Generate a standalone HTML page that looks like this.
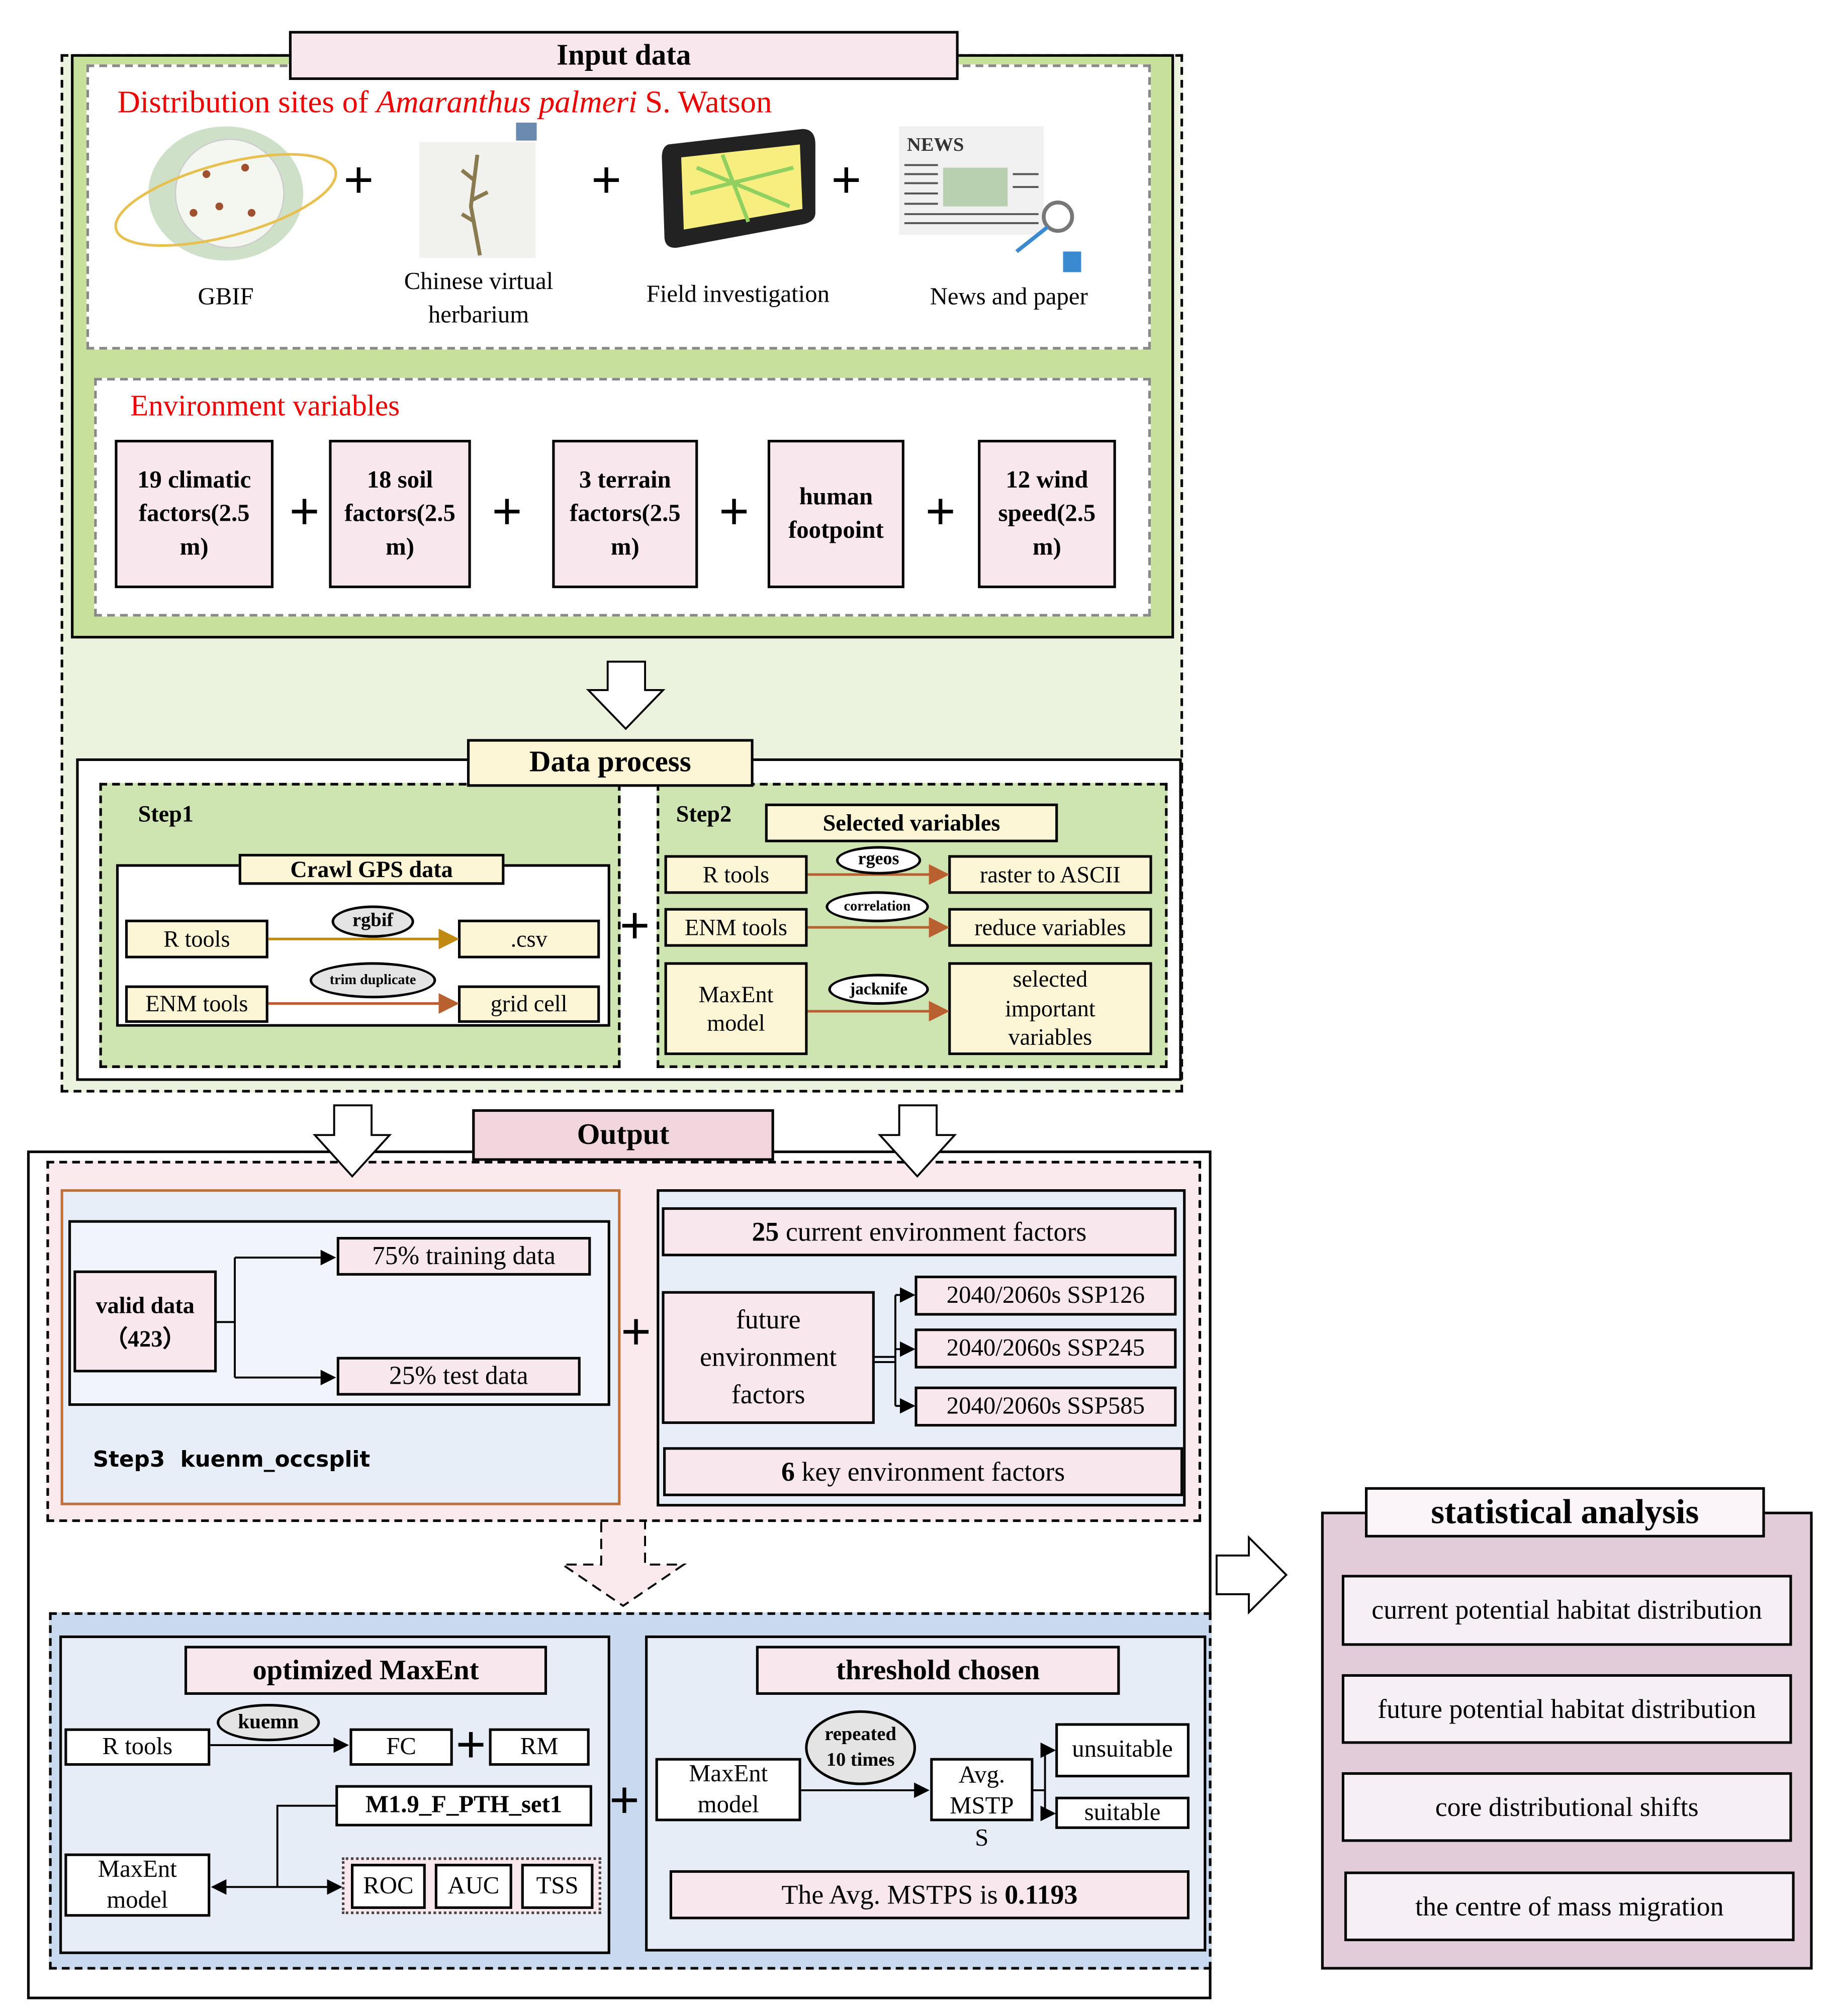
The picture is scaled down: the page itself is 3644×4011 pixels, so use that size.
<!DOCTYPE html>
<html><head><meta charset="utf-8"><style>
html,body{margin:0;padding:0;background:#fff;}
body{width:3644px;height:4010px;overflow:hidden;position:relative;}
#s{position:absolute;left:0;top:0;width:1420px;height:1563px;transform:scale(2.5662);transform-origin:0 0;font-family:"Liberation Serif",serif;color:#000;}
#s div{position:absolute;box-sizing:border-box;}
.b{border:2px solid #000;display:flex;align-items:center;justify-content:center;text-align:center;line-height:1.25;}
.pk{background:#f8e8ee;}
.yl{background:#fdf6d6;}
.wh{background:#fff;}
.bold{font-weight:bold;}
.ev{padding:0 10px;}
.el{border:2px solid #000;border-radius:50%;display:flex;align-items:center;justify-content:center;font-weight:bold;}
.plus{font-size:40px;line-height:40px;width:40px;height:40px;text-align:center;font-family:"Liberation Sans",sans-serif;font-weight:200;}
svg{position:absolute;left:0;top:0;overflow:visible;}
</style></head><body><div id="s">

<!-- INPUT DATA -->
<div style="left:47px;top:42px;width:870px;height:805px;border:2px dashed #000;background:#ebf3df;"></div>
<div style="left:55px;top:42px;width:855px;height:453px;border:2px solid #000;background:#c7e09c;"></div>
<div style="left:67px;top:50px;width:825px;height:221px;border:2px dashed #888;background:#fff;"></div>
<div style="left:73px;top:293px;width:819px;height:185px;border:2px dashed #888;background:#fff;"></div>
<div class="b pk bold" style="left:224px;top:24px;width:519px;height:38px;font-size:23px;">Input data</div>
<div style="left:91px;top:66px;font-size:24.5px;color:#e00;white-space:nowrap;">Distribution sites of <i>Amaranthus palmeri</i> S. Watson</div>

<svg width="1420" height="1563">
 <ellipse cx="175" cy="150" rx="60" ry="52" fill="#cfe0c8"/>
 <circle cx="178" cy="150" r="42" fill="#f4f6f0" stroke="#ccc"/>
 <ellipse cx="175" cy="155" rx="88" ry="28" fill="none" stroke="#e8c050" stroke-width="2" transform="rotate(-15 175 155)"/>
 <g fill="#a05030"><circle cx="160" cy="135" r="3"/><circle cx="190" cy="130" r="3"/><circle cx="170" cy="160" r="3"/><circle cx="195" cy="165" r="3"/><circle cx="150" cy="165" r="3"/></g>
 <rect x="325" y="110" width="90" height="90" fill="#f1f1ee"/>
 <path d="M370 120 L365 160 L372 198 M368 140 l-10 -8 M366 155 l12 -6 M368 172 l-10 -6" stroke="#8a7a50" stroke-width="3" fill="none"/>
 <rect x="400" y="95" width="16" height="14" fill="#6a8ab0"/>
 <path d="M518 112 L622 100 Q632 100 632 112 L632 165 Q632 172 622 174 L525 192 Q515 193 515 183 L513 122 Q513 114 518 112Z" fill="#222"/>
 <path d="M528 122 L620 112 L622 162 L530 178Z" fill="#f6ef80"/>
 <path d="M540 130 L612 160 M560 120 L580 172 M535 150 L615 130" stroke="#8fd060" stroke-width="3"/>
 <rect x="697" y="98" width="112" height="84" fill="#f0f0f0"/>
 <text x="703" y="117" font-family="Liberation Serif" font-weight="bold" font-size="15" fill="#333">NEWS</text>
 <rect x="731" y="130" width="50" height="30" fill="#b8d0b0"/>
 <g stroke="#555" stroke-width="1.5"><line x1="701" y1="128" x2="727" y2="128"/><line x1="701" y1="135" x2="727" y2="135"/><line x1="701" y1="142" x2="727" y2="142"/><line x1="701" y1="150" x2="727" y2="150"/><line x1="701" y1="158" x2="727" y2="158"/><line x1="701" y1="166" x2="805" y2="166"/><line x1="701" y1="173" x2="805" y2="173"/><line x1="785" y1="135" x2="805" y2="135"/><line x1="785" y1="145" x2="805" y2="145"/></g>
 <circle cx="820" cy="168" r="11" fill="none" stroke="#777" stroke-width="3"/>
 <line x1="812" y1="176" x2="788" y2="195" stroke="#3a8ad0" stroke-width="3"/>
 <rect x="824" y="195" width="14" height="16" fill="#3a8ad0"/>
</svg>
<div class="plus" style="left:258px;top:120px;">+</div>
<div class="plus" style="left:450px;top:120px;">+</div>
<div class="plus" style="left:636px;top:120px;">+</div>
<div style="left:130px;top:220px;width:90px;text-align:center;font-size:19px;">GBIF</div>
<div style="left:300px;top:206px;width:142px;text-align:center;font-size:19px;line-height:26px;">Chinese virtual herbarium</div>
<div style="left:482px;top:218px;width:180px;text-align:center;font-size:19px;">Field investigation</div>
<div style="left:697px;top:220px;width:170px;text-align:center;font-size:19px;">News and paper</div>

<div style="left:101px;top:302px;font-size:23px;color:#e00;">Environment variables</div>
<div class="b pk bold ev" style="left:89px;top:341px;width:123px;height:115px;font-size:19px;line-height:26px;">19 climatic factors(2.5 m)</div>
<div class="b pk bold ev" style="left:255px;top:341px;width:110px;height:115px;font-size:19px;line-height:26px;">18 soil factors(2.5 m)</div>
<div class="b pk bold ev" style="left:428px;top:341px;width:113px;height:115px;font-size:19px;line-height:26px;">3 terrain factors(2.5 m)</div>
<div class="b pk bold ev" style="left:595px;top:341px;width:106px;height:115px;font-size:19px;line-height:26px;">human footpoint</div>
<div class="b pk bold ev" style="left:758px;top:341px;width:107px;height:115px;font-size:19px;line-height:26px;">12 wind speed(2.5 m)</div>
<div class="plus" style="left:216px;top:377px;">+</div>
<div class="plus" style="left:373px;top:377px;">+</div>
<div class="plus" style="left:549px;top:377px;">+</div>
<div class="plus" style="left:709px;top:377px;">+</div>

<svg width="1420" height="1563"><path d="M471 513 H500 V535 H514 L485 565 L456 535 H471Z" fill="#fff" stroke="#000" stroke-width="1.5"/></svg>

<!-- DATA PROCESS -->
<div style="left:59px;top:588px;width:857px;height:250px;border:2px solid #000;background:#fff;"></div>
<div style="left:77px;top:607px;width:404px;height:221px;border:2px dashed #000;background:#cfe5b1;"></div>
<div style="left:509px;top:607px;width:396px;height:221px;border:2px dashed #000;background:#cfe5b1;"></div>
<div class="b yl bold" style="left:362px;top:573px;width:222px;height:37px;font-size:23px;">Data process</div>
<div class="bold" style="left:107px;top:621px;font-size:18px;">Step1</div>
<div class="bold" style="left:524px;top:621px;font-size:18px;">Step2</div>
<div style="left:90px;top:670px;width:383px;height:126px;border:2px solid #000;background:#fff;"></div>
<div class="b yl bold" style="left:185px;top:662px;width:206px;height:24px;font-size:18px;">Crawl GPS data</div>
<div class="b yl" style="left:97px;top:713px;width:111px;height:30px;font-size:18px;">R tools</div>
<div class="b yl" style="left:355px;top:713px;width:110px;height:30px;font-size:18px;">.csv</div>
<div class="b yl" style="left:97px;top:764px;width:111px;height:29px;font-size:18px;">ENM tools</div>
<div class="b yl" style="left:355px;top:764px;width:110px;height:29px;font-size:18px;">grid cell</div>
<div class="b yl bold" style="left:593px;top:623px;width:227px;height:30px;font-size:18px;">Selected variables</div>
<div class="b yl" style="left:515px;top:663px;width:111px;height:30px;font-size:18px;">R tools</div>
<div class="b yl" style="left:735px;top:663px;width:158px;height:30px;font-size:18px;">raster to ASCII</div>
<div class="b yl" style="left:515px;top:704px;width:111px;height:30px;font-size:18px;">ENM tools</div>
<div class="b yl" style="left:735px;top:704px;width:158px;height:30px;font-size:18px;">reduce variables</div>
<div class="b yl" style="left:515px;top:746px;width:111px;height:72px;font-size:18px;">MaxEnt model</div>
<div class="b yl ev" style="left:735px;top:746px;width:158px;height:72px;font-size:18px;padding:0 24px;">selected important variables</div>
<svg width="1420" height="1563">
 <defs>
  <marker id="ao" markerWidth="8" markerHeight="8" refX="7" refY="4" orient="auto"><path d="M0,0 L8,4 L0,8Z" fill="#b86030"/></marker>
  <marker id="ay" markerWidth="8" markerHeight="8" refX="7" refY="4" orient="auto"><path d="M0,0 L8,4 L0,8Z" fill="#c08a10"/></marker>
  <marker id="ak" markerWidth="8" markerHeight="8" refX="7" refY="4" orient="auto"><path d="M0,0 L8,4 L0,8Z" fill="#000"/></marker>
 </defs>
 <line x1="208" y1="728" x2="354" y2="728" stroke="#c08a10" stroke-width="2" marker-end="url(#ay)"/>
 <line x1="208" y1="778" x2="354" y2="778" stroke="#b86030" stroke-width="2" marker-end="url(#ao)"/>
 <line x1="626" y1="678" x2="734" y2="678" stroke="#b86030" stroke-width="2" marker-end="url(#ao)"/>
 <line x1="626" y1="719" x2="734" y2="719" stroke="#b86030" stroke-width="2" marker-end="url(#ao)"/>
 <line x1="626" y1="784" x2="734" y2="784" stroke="#b86030" stroke-width="2" marker-end="url(#ao)"/>
</svg>
<div class="el" style="left:257px;top:702px;width:64px;height:25px;background:#e4e4e4;font-size:15px;">rgbif</div>
<div class="el" style="left:240px;top:746px;width:98px;height:28px;background:#e4e4e4;font-size:11px;">trim duplicate</div>
<div class="el" style="left:648px;top:656px;width:66px;height:22px;background:#fff;font-size:14px;">rgeos</div>
<div class="el" style="left:640px;top:691px;width:80px;height:24px;background:#fff;font-size:11px;">correlation</div>
<div class="el" style="left:642px;top:755px;width:78px;height:24px;background:#fff;font-size:13px;">jacknife</div>
<div class="plus" style="left:472px;top:698px;">+</div>

<!-- OUTPUT -->
<div style="left:21px;top:892px;width:918px;height:658px;border:2px solid #000;background:#fff;"></div>
<div style="left:36px;top:900px;width:895px;height:280px;border:2px dashed #000;background:#faeaee;"></div>
<svg width="1420" height="1563">
 <path d="M259 857 H288 V880 H302 L273 912 L244 880 H259Z" fill="#fff" stroke="#000" stroke-width="1.5"/>
 <path d="M697 857 H726 V880 H740 L711 912 L682 880 H697Z" fill="#fff" stroke="#000" stroke-width="1.5"/>
</svg>
<div class="b bold" style="left:366px;top:860px;width:234px;height:40px;font-size:23px;background:#f2d6de;">Output</div>
<div style="left:47px;top:922px;width:434px;height:245px;border:2px solid #c0703a;background:#e8eef8;"></div>
<div style="left:53px;top:946px;width:420px;height:144px;border:2px solid #000;background:#f1f4fa;"></div>
<div class="b pk bold" style="left:57px;top:985px;width:111px;height:79px;font-size:18px;line-height:26px;">valid data<br>（423）</div>
<div class="b pk" style="left:261px;top:959px;width:197px;height:30px;font-size:20px;">75% training data</div>
<div class="b pk" style="left:261px;top:1052px;width:189px;height:30px;font-size:20px;">25% test data</div>
<div style="left:72px;top:1122px;font-family:'DejaVu Sans',sans-serif;font-size:17px;font-weight:600;white-space:nowrap;">Step3&nbsp;&nbsp;kuenm_occsplit</div>
<div class="plus" style="left:473px;top:1013px;">+</div>
<div style="left:509px;top:922px;width:410px;height:246px;border:2px solid #000;background:#e8eef8;"></div>
<div class="b pk" style="left:513px;top:936px;width:399px;height:38px;font-size:21px;"><b>25</b>&nbsp;current environment factors</div>
<div class="b pk" style="left:513px;top:1001px;width:165px;height:103px;font-size:21px;line-height:29px;">future environment factors</div>
<div class="b pk" style="left:709px;top:989px;width:203px;height:31px;font-size:19px;">2040/2060s SSP126</div>
<div class="b pk" style="left:709px;top:1030px;width:203px;height:31px;font-size:19px;">2040/2060s SSP245</div>
<div class="b pk" style="left:709px;top:1075px;width:203px;height:31px;font-size:19px;">2040/2060s SSP585</div>
<div class="b pk" style="left:514px;top:1122px;width:403px;height:38px;font-size:21px;"><b>6</b>&nbsp;key environment factors</div>
<svg width="1420" height="1563">
 <path d="M168 1025 H182 M182 975 V1068" stroke="#000" stroke-width="1.5" fill="none"/>
 <line x1="182" y1="975" x2="259" y2="975" stroke="#000" stroke-width="1.5" marker-end="url(#ak)"/>
 <line x1="182" y1="1068" x2="259" y2="1068" stroke="#000" stroke-width="1.5" marker-end="url(#ak)"/>
 <path d="M678 1052 H694 M678 1056 H694 M694 1004 V1090" stroke="#000" stroke-width="1.5" fill="none"/>
 <line x1="694" y1="1004" x2="708" y2="1004" stroke="#000" stroke-width="1.5" marker-end="url(#ak)"/>
 <line x1="694" y1="1046" x2="708" y2="1046" stroke="#000" stroke-width="1.5" marker-end="url(#ak)"/>
 <line x1="694" y1="1090" x2="708" y2="1090" stroke="#000" stroke-width="1.5" marker-end="url(#ak)"/>
 <path d="M466 1180 V1213 H436 L483 1245 L530 1213 H500 V1180" fill="#faeaee" stroke="#000" stroke-width="1.5" stroke-dasharray="8,5"/>
 <path d="M943 1206 H968 V1192 L997 1221 L968 1250 V1236 H943Z" fill="#fff" stroke="#000" stroke-width="1.5"/>
</svg>

<div style="left:38px;top:1250px;width:901px;height:277px;border:2px dashed #000;background:#c9d9ee;"></div>
<div style="left:46px;top:1268px;width:427px;height:247px;border:2px solid #000;background:#e6edf7;"></div>
<div style="left:500px;top:1268px;width:435px;height:245px;border:2px solid #000;background:#e6edf7;"></div>
<div class="b pk bold" style="left:143px;top:1276px;width:281px;height:38px;font-size:22px;">optimized MaxEnt</div>
<div class="b pk bold" style="left:586px;top:1276px;width:282px;height:38px;font-size:22px;">threshold chosen</div>
<div class="b wh" style="left:50px;top:1340px;width:113px;height:29px;font-size:19px;">R tools</div>
<div class="b wh" style="left:271px;top:1340px;width:80px;height:29px;font-size:19px;">FC</div>
<div class="b wh" style="left:379px;top:1340px;width:78px;height:29px;font-size:19px;">RM</div>
<div class="plus" style="left:345px;top:1333px;">+</div>
<div class="b wh bold" style="left:260px;top:1384px;width:199px;height:32px;font-size:19px;">M1.9_F_PTH_set1</div>
<div class="b wh" style="left:50px;top:1437px;width:113px;height:49px;font-size:19px;line-height:24px;">MaxEnt model</div>
<div style="left:265px;top:1440px;width:201px;height:44px;border:2px dotted #444;background:#f8e8ee;"></div>
<div class="b wh" style="left:272px;top:1445px;width:58px;height:35px;font-size:19px;">ROC</div>
<div class="b wh" style="left:337px;top:1445px;width:60px;height:35px;font-size:19px;">AUC</div>
<div class="b wh" style="left:404px;top:1445px;width:56px;height:35px;font-size:19px;">TSS</div>
<svg width="1420" height="1563">
 <line x1="163" y1="1353" x2="269" y2="1353" stroke="#000" stroke-width="1.5" marker-end="url(#ak)"/>
 <path d="M260 1400 H215 V1463" stroke="#000" stroke-width="1.5" fill="none"/>
 <line x1="215" y1="1463" x2="165" y2="1463" stroke="#000" stroke-width="1.5" marker-end="url(#ak)"/>
 <line x1="215" y1="1463" x2="264" y2="1463" stroke="#000" stroke-width="1.5" marker-end="url(#ak)"/>
 <line x1="621" y1="1388" x2="719" y2="1388" stroke="#000" stroke-width="1.5" marker-end="url(#ak)"/>
 <path d="M801 1388 H810 M810 1357 V1406" stroke="#000" stroke-width="1.5" fill="none"/>
 <line x1="810" y1="1357" x2="817" y2="1357" stroke="#000" stroke-width="1.5" marker-end="url(#ak)"/>
 <line x1="810" y1="1406" x2="817" y2="1406" stroke="#000" stroke-width="1.5" marker-end="url(#ak)"/>
</svg>
<div class="el" style="left:168px;top:1321px;width:80px;height:29px;background:#e4e4e4;font-size:16px;">kuemn</div>
<div class="plus" style="left:464px;top:1376px;">+</div>
<div class="b wh" style="left:508px;top:1363px;width:113px;height:49px;font-size:19px;line-height:24px;">MaxEnt model</div>
<div class="el" style="left:624px;top:1326px;width:86px;height:58px;background:#e4e4e4;font-size:15px;line-height:20px;text-align:center;">repeated<br>10 times</div>
<div class="b wh" style="left:721px;top:1363px;width:80px;height:49px;font-size:19px;line-height:24px;align-items:flex-start;">Avg.<br>MSTP</div>
<div style="left:721px;top:1415px;width:80px;text-align:center;font-size:19px;">S</div>
<div class="b wh" style="left:818px;top:1336px;width:104px;height:42px;font-size:19px;">unsuitable</div>
<div class="b wh" style="left:818px;top:1393px;width:104px;height:25px;font-size:19px;">suitable</div>
<div class="b pk" style="left:519px;top:1450px;width:403px;height:38px;font-size:21px;">The Avg. MSTPS is&nbsp;<b>0.1193</b></div>

<!-- STATISTICAL -->
<div style="left:1024px;top:1172px;width:381px;height:355px;border:2px solid #000;background:#e3ccd9;"></div>
<div class="b bold" style="left:1058px;top:1153px;width:310px;height:39px;font-size:27px;background:#fbf4f8;">statistical analysis</div>
<div class="b" style="left:1040px;top:1221px;width:349px;height:55px;font-size:21px;background:#f6eff5;">current potential habitat distribution</div>
<div class="b" style="left:1040px;top:1298px;width:349px;height:54px;font-size:21px;background:#f6eff5;">future potential habitat distribution</div>
<div class="b" style="left:1040px;top:1374px;width:349px;height:54px;font-size:21px;background:#f6eff5;">core distributional shifts</div>
<div class="b" style="left:1042px;top:1451px;width:349px;height:54px;font-size:21px;background:#f6eff5;">the centre of mass migration</div>

</div></body></html>
